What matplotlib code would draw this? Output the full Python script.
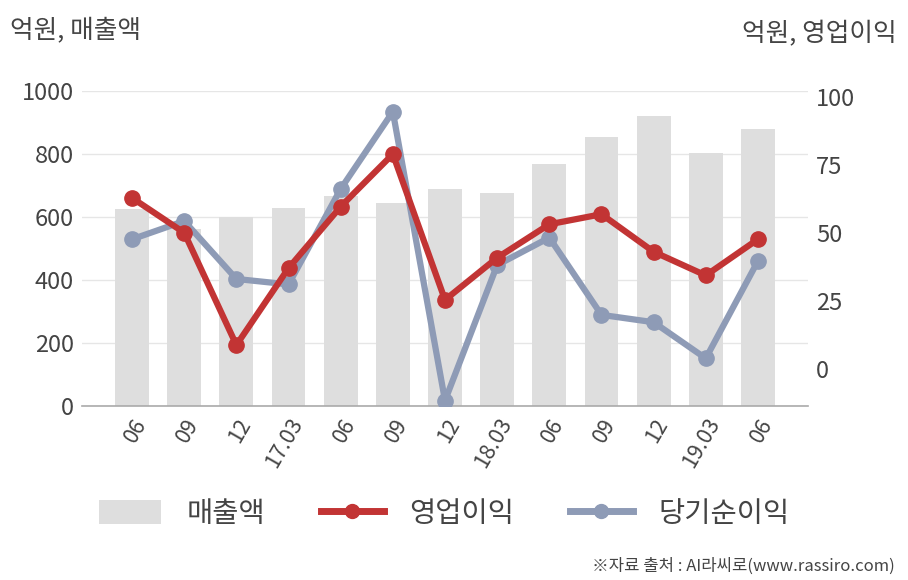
import matplotlib
matplotlib.use("Agg")
import matplotlib.pyplot as plt
from matplotlib.lines import Line2D
from matplotlib.patches import Patch

plt.rcParams['font.family'] = ['Noto Sans CJK KR', 'DejaVu Sans']

categories = ["06", "09", "12", "17.03", "06", "09", "12", "18.03", "06", "09", "12", "19.03", "06"]
revenue = [625, 562, 600, 630, 667, 644, 689, 676, 768, 854, 921, 803, 879]
op_profit = [62.9, 50.1, 8.8, 37.1, 59.7, 79.0, 25.4, 40.9, 53.2, 56.9, 43.1, 34.4, 47.7]
net_profit = [47.7, 54.4, 33.1, 31.1, 66.2, 94.6, -11.6, 38.2, 48.3, 19.9, 17.2, 3.9, 39.7]
left_ticks = [0, 200, 400, 600, 800, 1000]
right_ticks = [0, 25, 50, 75, 100]

BAR = "#dedede"
RED = "#c23434"
BLUE = "#8e9bb6"
TXT = "#444444"

fig = plt.figure(figsize=(9.08, 5.8), dpi=100)
ax = fig.add_axes([82/908, 1-406/580, (808-82)/908, (406-91)/580])
x = list(range(len(categories)))
ax.bar(x, revenue, width=0.65, color=BAR, zorder=2)
ax.set_xlim(-0.96, len(categories) - 1 + 0.96)
ax.set_ylim(0, 1000)
ax.set_yticks(left_ticks)
ax.yaxis.grid(True, color="#e6e6e6", linewidth=1, zorder=0)
ax.set_axisbelow(True)
for s in ["left", "right", "top"]:
    ax.spines[s].set_visible(False)
ax.spines["bottom"].set_color("#aaaaaa")
ax.spines["bottom"].set_linewidth(1.2)
ax.tick_params(axis="y", length=0, labelsize=17, labelcolor=TXT, pad=6)
ax.tick_params(axis="x", length=0, labelsize=15.5, labelcolor=TXT, pad=6)
ax.set_xticks(x)
ax.set_xticklabels(categories, rotation=60, ha="right", rotation_mode="anchor")

ax2 = ax.twinx()
ax2.set_ylim(-13.6, 102.2)
ax2.set_yticks(right_ticks)
for s in ["left", "right", "top", "bottom"]:
    ax2.spines[s].set_visible(False)
ax2.tick_params(axis="y", length=0, labelsize=17, labelcolor=TXT, pad=6)
ax2.plot(x, net_profit, color=BLUE, linewidth=4.5, marker="o", markersize=11, zorder=3)
ax2.plot(x, op_profit, color=RED, linewidth=4.5, marker="o", markersize=11, zorder=4)

fig.text(10/908, 1-30/580, "억원, 매출액", fontsize=18.5, color=TXT, ha="left", va="center")
fig.text(897/908, 1-34/580, "억원, 영업이익", fontsize=18.5, color=TXT, ha="right", va="center")

handles = [
    Patch(facecolor=BAR, edgecolor="none"),
    Line2D([0], [0], color=RED, linewidth=5, marker="o", markersize=10),
    Line2D([0], [0], color=BLUE, linewidth=5, marker="o", markersize=10),
]
fig.legend(handles, ["매출액", "영업이익", "당기순이익"], loc="center", bbox_to_anchor=(444/908, 1-514/580),
           ncol=3, frameon=False, fontsize=20.5, labelcolor=TXT, handlelength=2.2, handleheight=0.9,
           columnspacing=1.95, handletextpad=0.9)

fig.text(895/908, 1-566/580, "※자료 출처 : AI라씨로(www.rassiro.com)", fontsize=12, color=TXT, ha="right", va="center")

fig.savefig("out.png", dpi=100)
